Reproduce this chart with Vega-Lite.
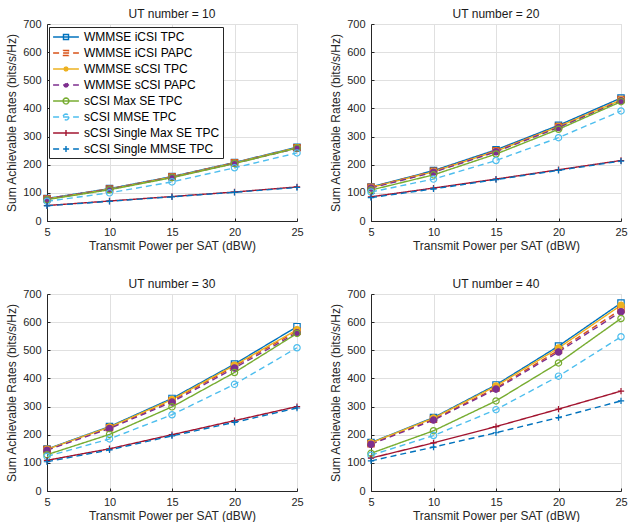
{
 "$schema": "https://vega.github.io/schema/vega-lite/v6.json",
 "padding": {"left": 5, "top": 7, "right": 5, "bottom": 0},
 "background": "white",
 "datasets": {"d": [
  {"ut":10,"p":5,"series":"WMMSE iCSI TPC","rate":80},{"ut":10,"p":10,"series":"WMMSE iCSI TPC","rate":115},{"ut":10,"p":15,"series":"WMMSE iCSI TPC","rate":158},{"ut":10,"p":20,"series":"WMMSE iCSI TPC","rate":208},{"ut":10,"p":25,"series":"WMMSE iCSI TPC","rate":262},
  {"ut":10,"p":5,"series":"WMMSE iCSI PAPC","rate":79},{"ut":10,"p":10,"series":"WMMSE iCSI PAPC","rate":114},{"ut":10,"p":15,"series":"WMMSE iCSI PAPC","rate":157},{"ut":10,"p":20,"series":"WMMSE iCSI PAPC","rate":207},{"ut":10,"p":25,"series":"WMMSE iCSI PAPC","rate":260},
  {"ut":10,"p":5,"series":"WMMSE sCSI TPC","rate":78},{"ut":10,"p":10,"series":"WMMSE sCSI TPC","rate":113},{"ut":10,"p":15,"series":"WMMSE sCSI TPC","rate":156},{"ut":10,"p":20,"series":"WMMSE sCSI TPC","rate":206},{"ut":10,"p":25,"series":"WMMSE sCSI TPC","rate":260},
  {"ut":10,"p":5,"series":"WMMSE sCSI PAPC","rate":78},{"ut":10,"p":10,"series":"WMMSE sCSI PAPC","rate":113},{"ut":10,"p":15,"series":"WMMSE sCSI PAPC","rate":155},{"ut":10,"p":20,"series":"WMMSE sCSI PAPC","rate":205},{"ut":10,"p":25,"series":"WMMSE sCSI PAPC","rate":258},
  {"ut":10,"p":5,"series":"sCSI Max SE TPC","rate":76},{"ut":10,"p":10,"series":"sCSI Max SE TPC","rate":111},{"ut":10,"p":15,"series":"sCSI Max SE TPC","rate":154},{"ut":10,"p":20,"series":"sCSI Max SE TPC","rate":204},{"ut":10,"p":25,"series":"sCSI Max SE TPC","rate":259},
  {"ut":10,"p":5,"series":"sCSI MMSE TPC","rate":70},{"ut":10,"p":10,"series":"sCSI MMSE TPC","rate":100},{"ut":10,"p":15,"series":"sCSI MMSE TPC","rate":139},{"ut":10,"p":20,"series":"sCSI MMSE TPC","rate":189},{"ut":10,"p":25,"series":"sCSI MMSE TPC","rate":242},
  {"ut":10,"p":5,"series":"sCSI Single Max SE TPC","rate":55},{"ut":10,"p":10,"series":"sCSI Single Max SE TPC","rate":71},{"ut":10,"p":15,"series":"sCSI Single Max SE TPC","rate":87},{"ut":10,"p":20,"series":"sCSI Single Max SE TPC","rate":103},{"ut":10,"p":25,"series":"sCSI Single Max SE TPC","rate":121},
  {"ut":10,"p":5,"series":"sCSI Single MMSE TPC","rate":54},{"ut":10,"p":10,"series":"sCSI Single MMSE TPC","rate":70},{"ut":10,"p":15,"series":"sCSI Single MMSE TPC","rate":86},{"ut":10,"p":20,"series":"sCSI Single MMSE TPC","rate":102},{"ut":10,"p":25,"series":"sCSI Single MMSE TPC","rate":119},

  {"ut":20,"p":5,"series":"WMMSE iCSI TPC","rate":121},{"ut":20,"p":10,"series":"WMMSE iCSI TPC","rate":179},{"ut":20,"p":15,"series":"WMMSE iCSI TPC","rate":253},{"ut":20,"p":20,"series":"WMMSE iCSI TPC","rate":340},{"ut":20,"p":25,"series":"WMMSE iCSI TPC","rate":437},
  {"ut":20,"p":5,"series":"WMMSE iCSI PAPC","rate":120},{"ut":20,"p":10,"series":"WMMSE iCSI PAPC","rate":177},{"ut":20,"p":15,"series":"WMMSE iCSI PAPC","rate":250},{"ut":20,"p":20,"series":"WMMSE iCSI PAPC","rate":336},{"ut":20,"p":25,"series":"WMMSE iCSI PAPC","rate":432},
  {"ut":20,"p":5,"series":"WMMSE sCSI TPC","rate":119},{"ut":20,"p":10,"series":"WMMSE sCSI TPC","rate":175},{"ut":20,"p":15,"series":"WMMSE sCSI TPC","rate":248},{"ut":20,"p":20,"series":"WMMSE sCSI TPC","rate":335},{"ut":20,"p":25,"series":"WMMSE sCSI TPC","rate":430},
  {"ut":20,"p":5,"series":"WMMSE sCSI PAPC","rate":117},{"ut":20,"p":10,"series":"WMMSE sCSI PAPC","rate":173},{"ut":20,"p":15,"series":"WMMSE sCSI PAPC","rate":246},{"ut":20,"p":20,"series":"WMMSE sCSI PAPC","rate":332},{"ut":20,"p":25,"series":"WMMSE sCSI PAPC","rate":427},
  {"ut":20,"p":5,"series":"sCSI Max SE TPC","rate":110},{"ut":20,"p":10,"series":"sCSI Max SE TPC","rate":164},{"ut":20,"p":15,"series":"sCSI Max SE TPC","rate":238},{"ut":20,"p":20,"series":"sCSI Max SE TPC","rate":326},{"ut":20,"p":25,"series":"sCSI Max SE TPC","rate":424},
  {"ut":20,"p":5,"series":"sCSI MMSE TPC","rate":103},{"ut":20,"p":10,"series":"sCSI MMSE TPC","rate":149},{"ut":20,"p":15,"series":"sCSI MMSE TPC","rate":215},{"ut":20,"p":20,"series":"sCSI MMSE TPC","rate":296},{"ut":20,"p":25,"series":"sCSI MMSE TPC","rate":391},
  {"ut":20,"p":5,"series":"sCSI Single Max SE TPC","rate":86},{"ut":20,"p":10,"series":"sCSI Single Max SE TPC","rate":117},{"ut":20,"p":15,"series":"sCSI Single Max SE TPC","rate":149},{"ut":20,"p":20,"series":"sCSI Single Max SE TPC","rate":182},{"ut":20,"p":25,"series":"sCSI Single Max SE TPC","rate":215},
  {"ut":20,"p":5,"series":"sCSI Single MMSE TPC","rate":83},{"ut":20,"p":10,"series":"sCSI Single MMSE TPC","rate":114},{"ut":20,"p":15,"series":"sCSI Single MMSE TPC","rate":147},{"ut":20,"p":20,"series":"sCSI Single MMSE TPC","rate":180},{"ut":20,"p":25,"series":"sCSI Single MMSE TPC","rate":213},

  {"ut":30,"p":5,"series":"WMMSE iCSI TPC","rate":149},{"ut":30,"p":10,"series":"WMMSE iCSI TPC","rate":229},{"ut":30,"p":15,"series":"WMMSE iCSI TPC","rate":329},{"ut":30,"p":20,"series":"WMMSE iCSI TPC","rate":451},{"ut":30,"p":25,"series":"WMMSE iCSI TPC","rate":584},
  {"ut":30,"p":5,"series":"WMMSE iCSI PAPC","rate":147},{"ut":30,"p":10,"series":"WMMSE iCSI PAPC","rate":225},{"ut":30,"p":15,"series":"WMMSE iCSI PAPC","rate":321},{"ut":30,"p":20,"series":"WMMSE iCSI PAPC","rate":443},{"ut":30,"p":25,"series":"WMMSE iCSI PAPC","rate":568},
  {"ut":30,"p":5,"series":"WMMSE sCSI TPC","rate":148},{"ut":30,"p":10,"series":"WMMSE sCSI TPC","rate":227},{"ut":30,"p":15,"series":"WMMSE sCSI TPC","rate":325},{"ut":30,"p":20,"series":"WMMSE sCSI TPC","rate":447},{"ut":30,"p":25,"series":"WMMSE sCSI TPC","rate":573},
  {"ut":30,"p":5,"series":"WMMSE sCSI PAPC","rate":145},{"ut":30,"p":10,"series":"WMMSE sCSI PAPC","rate":222},{"ut":30,"p":15,"series":"WMMSE sCSI PAPC","rate":316},{"ut":30,"p":20,"series":"WMMSE sCSI PAPC","rate":437},{"ut":30,"p":25,"series":"WMMSE sCSI PAPC","rate":562},
  {"ut":30,"p":5,"series":"sCSI Max SE TPC","rate":129},{"ut":30,"p":10,"series":"sCSI Max SE TPC","rate":201},{"ut":30,"p":15,"series":"sCSI Max SE TPC","rate":299},{"ut":30,"p":20,"series":"sCSI Max SE TPC","rate":421},{"ut":30,"p":25,"series":"sCSI Max SE TPC","rate":560},
  {"ut":30,"p":5,"series":"sCSI MMSE TPC","rate":123},{"ut":30,"p":10,"series":"sCSI MMSE TPC","rate":185},{"ut":30,"p":15,"series":"sCSI MMSE TPC","rate":271},{"ut":30,"p":20,"series":"sCSI MMSE TPC","rate":379},{"ut":30,"p":25,"series":"sCSI MMSE TPC","rate":509},
  {"ut":30,"p":5,"series":"sCSI Single Max SE TPC","rate":109},{"ut":30,"p":10,"series":"sCSI Single Max SE TPC","rate":150},{"ut":30,"p":15,"series":"sCSI Single Max SE TPC","rate":200},{"ut":30,"p":20,"series":"sCSI Single Max SE TPC","rate":250},{"ut":30,"p":25,"series":"sCSI Single Max SE TPC","rate":300},
  {"ut":30,"p":5,"series":"sCSI Single MMSE TPC","rate":104},{"ut":30,"p":10,"series":"sCSI Single MMSE TPC","rate":146},{"ut":30,"p":15,"series":"sCSI Single MMSE TPC","rate":196},{"ut":30,"p":20,"series":"sCSI Single MMSE TPC","rate":244},{"ut":30,"p":25,"series":"sCSI Single MMSE TPC","rate":295},

  {"ut":40,"p":5,"series":"WMMSE iCSI TPC","rate":172},{"ut":40,"p":10,"series":"WMMSE iCSI TPC","rate":261},{"ut":40,"p":15,"series":"WMMSE iCSI TPC","rate":377},{"ut":40,"p":20,"series":"WMMSE iCSI TPC","rate":515},{"ut":40,"p":25,"series":"WMMSE iCSI TPC","rate":668},
  {"ut":40,"p":5,"series":"WMMSE iCSI PAPC","rate":168},{"ut":40,"p":10,"series":"WMMSE iCSI PAPC","rate":255},{"ut":40,"p":15,"series":"WMMSE iCSI PAPC","rate":366},{"ut":40,"p":20,"series":"WMMSE iCSI PAPC","rate":500},{"ut":40,"p":25,"series":"WMMSE iCSI PAPC","rate":645},
  {"ut":40,"p":5,"series":"WMMSE sCSI TPC","rate":171},{"ut":40,"p":10,"series":"WMMSE sCSI TPC","rate":259},{"ut":40,"p":15,"series":"WMMSE sCSI TPC","rate":373},{"ut":40,"p":20,"series":"WMMSE sCSI TPC","rate":508},{"ut":40,"p":25,"series":"WMMSE sCSI TPC","rate":660},
  {"ut":40,"p":5,"series":"WMMSE sCSI PAPC","rate":166},{"ut":40,"p":10,"series":"WMMSE sCSI PAPC","rate":252},{"ut":40,"p":15,"series":"WMMSE sCSI PAPC","rate":362},{"ut":40,"p":20,"series":"WMMSE sCSI PAPC","rate":494},{"ut":40,"p":25,"series":"WMMSE sCSI PAPC","rate":637},
  {"ut":40,"p":5,"series":"sCSI Max SE TPC","rate":134},{"ut":40,"p":10,"series":"sCSI Max SE TPC","rate":214},{"ut":40,"p":15,"series":"sCSI Max SE TPC","rate":320},{"ut":40,"p":20,"series":"sCSI Max SE TPC","rate":455},{"ut":40,"p":25,"series":"sCSI Max SE TPC","rate":613},
  {"ut":40,"p":5,"series":"sCSI MMSE TPC","rate":127},{"ut":40,"p":10,"series":"sCSI MMSE TPC","rate":197},{"ut":40,"p":15,"series":"sCSI MMSE TPC","rate":289},{"ut":40,"p":20,"series":"sCSI MMSE TPC","rate":408},{"ut":40,"p":25,"series":"sCSI MMSE TPC","rate":548},
  {"ut":40,"p":5,"series":"sCSI Single Max SE TPC","rate":117},{"ut":40,"p":10,"series":"sCSI Single Max SE TPC","rate":171},{"ut":40,"p":15,"series":"sCSI Single Max SE TPC","rate":229},{"ut":40,"p":20,"series":"sCSI Single Max SE TPC","rate":291},{"ut":40,"p":25,"series":"sCSI Single Max SE TPC","rate":355},
  {"ut":40,"p":5,"series":"sCSI Single MMSE TPC","rate":107},{"ut":40,"p":10,"series":"sCSI Single MMSE TPC","rate":156},{"ut":40,"p":15,"series":"sCSI Single MMSE TPC","rate":207},{"ut":40,"p":20,"series":"sCSI Single MMSE TPC","rate":261},{"ut":40,"p":25,"series":"sCSI Single MMSE TPC","rate":320}
 ]},
 "data": {"name": "d"},
 "bounds": "flush",
 "columns": 2,
 "spacing": {"row": 73, "column": 74},
 "concat": [
   {"width": 250, "height": 197, "title": {"text": "UT number = 10"},
    "transform": [{"filter": "datum.ut === 10"}],
    "encoding": {
     "x": {"field": "p", "type": "quantitative", "scale": {"domain": [5, 25], "nice": false}, "axis": {"values": [5, 10, 15, 20, 25], "title": "Transmit Power per SAT (dBW)"}},
     "y": {"field": "rate", "type": "quantitative", "scale": {"domain": [0, 700], "nice": false}, "axis": {"values": [0, 100, 200, 300, 400, 500, 600, 700], "title": "Sum Achievable Rates (bits/s/Hz)"}},
     "stroke": {"field": "series", "type": "nominal", "scale": {"domain": ["WMMSE iCSI TPC","WMMSE iCSI PAPC","WMMSE sCSI TPC","WMMSE sCSI PAPC","sCSI Max SE TPC","sCSI MMSE TPC","sCSI Single Max SE TPC","sCSI Single MMSE TPC"], "range": ["#0072BD","#D95319","#EDB120","#7E2F8E","#77AC30","#4DBEEE","#A2142F","#0072BD"]},
      "legend": {"orient": "none", "legendX": 2, "legendY": 3, "title": null,
       "encode": {"symbols": {"update": {
        "shape": {"signal": "['M-2.15,0H2.15M-0.42,-0.42H0.42V0.42H-0.42Z','M-2.15,0H2.15M-0.42,-0.42H0.42V0.42H-0.42Z','M-2.15,0H2.15M0.33,0L0.23,0.23L0,0.33L-0.23,0.23L-0.33,0L-0.23,-0.23L0,-0.33L0.23,-0.23Z','M-2.15,0H2.15M0.33,0L0.23,0.23L0,0.33L-0.23,0.23L-0.33,0L-0.23,-0.23L0,-0.33L0.23,-0.23Z','M-2.15,0H2.15M0.5,0L0.43,0.25L0.25,0.43L0,0.5L-0.25,0.43L-0.43,0.25L-0.5,0L-0.43,-0.25L-0.25,-0.43L0,-0.5L0.25,-0.43L0.43,-0.25Z','M-2.15,0H2.15M0.5,0L0.43,0.25L0.25,0.43L0,0.5L-0.25,0.43L-0.43,0.25L-0.5,0L-0.43,-0.25L-0.25,-0.43L0,-0.5L0.25,-0.43L0.43,-0.25Z','M-2.15,0H2.15M0,-0.5V0.5','M-2.15,0H2.15M0,-0.5V0.5'][indexof(['WMMSE iCSI TPC','WMMSE iCSI PAPC','WMMSE sCSI TPC','WMMSE sCSI PAPC','sCSI Max SE TPC','sCSI MMSE TPC','sCSI Single Max SE TPC','sCSI Single MMSE TPC'], datum.value)]"},
        "size": {"value": 144},
        "fill": {"signal": "datum.value === 'WMMSE sCSI TPC' ? '#EDB120' : datum.value === 'WMMSE sCSI PAPC' ? '#7E2F8E' : 'transparent'"}
       }}}}}
    },
    "layer": [
     {"mark": {"type": "line", "strokeWidth": 1.4}, "encoding": {"strokeDash": {"field": "series", "type": "nominal", "scale": {"domain": ["WMMSE iCSI TPC","WMMSE iCSI PAPC","WMMSE sCSI TPC","WMMSE sCSI PAPC","sCSI Max SE TPC","sCSI MMSE TPC","sCSI Single Max SE TPC","sCSI Single MMSE TPC"], "range": [[1,0],[6,4],[1,0],[6,4],[1,0],[6,4],[1,0],[6,4]]}}}},
     {"mark": {"type": "point", "strokeWidth": 1.2, "opacity": 1}, "encoding": {
      "shape": {"field": "series", "type": "nominal", "legend": null, "scale": {"domain": ["sCSI Single MMSE TPC","sCSI Single Max SE TPC","sCSI MMSE TPC","sCSI Max SE TPC","WMMSE sCSI PAPC","WMMSE sCSI TPC","WMMSE iCSI PAPC","WMMSE iCSI TPC"], "range": ["M-1,0H1M0,-1V1","M-1,0H1M0,-1V1","circle","circle","circle","circle","square","square"]}},
      "size": {"field": "series", "type": "nominal", "legend": null, "scale": {"domain": ["sCSI Single MMSE TPC","sCSI Single Max SE TPC","sCSI MMSE TPC","sCSI Max SE TPC","WMMSE sCSI PAPC","WMMSE sCSI TPC","WMMSE iCSI PAPC","WMMSE iCSI TPC"], "range": [40,40,36,36,12,12,28,28]}},
      "fill": {"field": "series", "type": "nominal", "legend": null, "scale": {"domain": ["sCSI Single MMSE TPC","sCSI Single Max SE TPC","sCSI MMSE TPC","sCSI Max SE TPC","WMMSE sCSI PAPC","WMMSE sCSI TPC","WMMSE iCSI PAPC","WMMSE iCSI TPC"], "range": ["transparent","transparent","transparent","transparent","#7E2F8E","#EDB120","transparent","transparent"]}}
     }}
    ]},
   {"width": 250, "height": 197, "title": {"text": "UT number = 20"},
    "transform": [{"filter": "datum.ut === 20"}],
    "encoding": {
     "x": {"field": "p", "type": "quantitative", "scale": {"domain": [5, 25], "nice": false}, "axis": {"values": [5, 10, 15, 20, 25], "title": "Transmit Power per SAT (dBW)"}},
     "y": {"field": "rate", "type": "quantitative", "scale": {"domain": [0, 700], "nice": false}, "axis": {"values": [0, 100, 200, 300, 400, 500, 600, 700], "title": "Sum Achievable Rates (bits/s/Hz)"}},
     "stroke": {"field": "series", "type": "nominal"}
    },
    "layer": [
     {"mark": {"type": "line", "strokeWidth": 1.4}, "encoding": {"strokeDash": {"field": "series", "type": "nominal"}}},
     {"mark": {"type": "point", "strokeWidth": 1.2, "opacity": 1}, "encoding": {
      "shape": {"field": "series", "type": "nominal", "legend": null},
      "size": {"field": "series", "type": "nominal", "legend": null},
      "fill": {"field": "series", "type": "nominal", "legend": null}
     }}
    ]},
   {"width": 250, "height": 197, "title": {"text": "UT number = 30"},
    "transform": [{"filter": "datum.ut === 30"}],
    "encoding": {
     "x": {"field": "p", "type": "quantitative", "scale": {"domain": [5, 25], "nice": false}, "axis": {"values": [5, 10, 15, 20, 25], "title": "Transmit Power per SAT (dBW)"}},
     "y": {"field": "rate", "type": "quantitative", "scale": {"domain": [0, 700], "nice": false}, "axis": {"values": [0, 100, 200, 300, 400, 500, 600, 700], "title": "Sum Achievable Rates (bits/s/Hz)"}},
     "stroke": {"field": "series", "type": "nominal"}
    },
    "layer": [
     {"mark": {"type": "line", "strokeWidth": 1.4}, "encoding": {"strokeDash": {"field": "series", "type": "nominal"}}},
     {"mark": {"type": "point", "strokeWidth": 1.2, "opacity": 1}, "encoding": {
      "shape": {"field": "series", "type": "nominal", "legend": null},
      "size": {"field": "series", "type": "nominal", "legend": null},
      "fill": {"field": "series", "type": "nominal", "legend": null}
     }}
    ]},
   {"width": 250, "height": 197, "title": {"text": "UT number = 40"},
    "transform": [{"filter": "datum.ut === 40"}],
    "encoding": {
     "x": {"field": "p", "type": "quantitative", "scale": {"domain": [5, 25], "nice": false}, "axis": {"values": [5, 10, 15, 20, 25], "title": "Transmit Power per SAT (dBW)"}},
     "y": {"field": "rate", "type": "quantitative", "scale": {"domain": [0, 700], "nice": false}, "axis": {"values": [0, 100, 200, 300, 400, 500, 600, 700], "title": "Sum Achievable Rates (bits/s/Hz)"}},
     "stroke": {"field": "series", "type": "nominal"}
    },
    "layer": [
     {"mark": {"type": "line", "strokeWidth": 1.4}, "encoding": {"strokeDash": {"field": "series", "type": "nominal"}}},
     {"mark": {"type": "point", "strokeWidth": 1.2, "opacity": 1}, "encoding": {
      "shape": {"field": "series", "type": "nominal", "legend": null},
      "size": {"field": "series", "type": "nominal", "legend": null},
      "fill": {"field": "series", "type": "nominal", "legend": null}
     }}
    ]}
 ],
 "config": {
  "font": "Liberation Sans",
  "view": {"stroke": "#d4d4d4", "strokeWidth": 1},
  "axis": {"labelFont": "Liberation Sans", "labelFontSize": 11, "labelColor": "#262626", "titleFont": "Liberation Sans", "titleFontSize": 12, "titleFontWeight": "normal", "titleColor": "#262626", "gridColor": "#e0e0e0", "gridWidth": 1, "domainColor": "#262626", "domainWidth": 1, "tickColor": "#262626", "tickSize": -3, "labelFlush": false, "labelOverlap": false},
  "axisX": {"labelPadding": 8, "titlePadding": 3},
  "axisY": {"labelPadding": 9, "titlePadding": 4},
  "title": {"font": "Liberation Sans", "fontSize": 12, "fontWeight": "normal", "color": "#1a1a1a", "offset": -3, "frame": "group", "anchor": "middle"},
  "legend": {"strokeColor": "#262626", "fillColor": "white", "padding": 3, "labelFont": "Liberation Sans", "labelFontSize": 12, "labelColor": "#000000", "symbolSize": 144, "symbolStrokeWidth": 1.4, "symbolOffset": 7, "labelOffset": 11, "rowPadding": 3, "labelLimit": 300}
 }
}
